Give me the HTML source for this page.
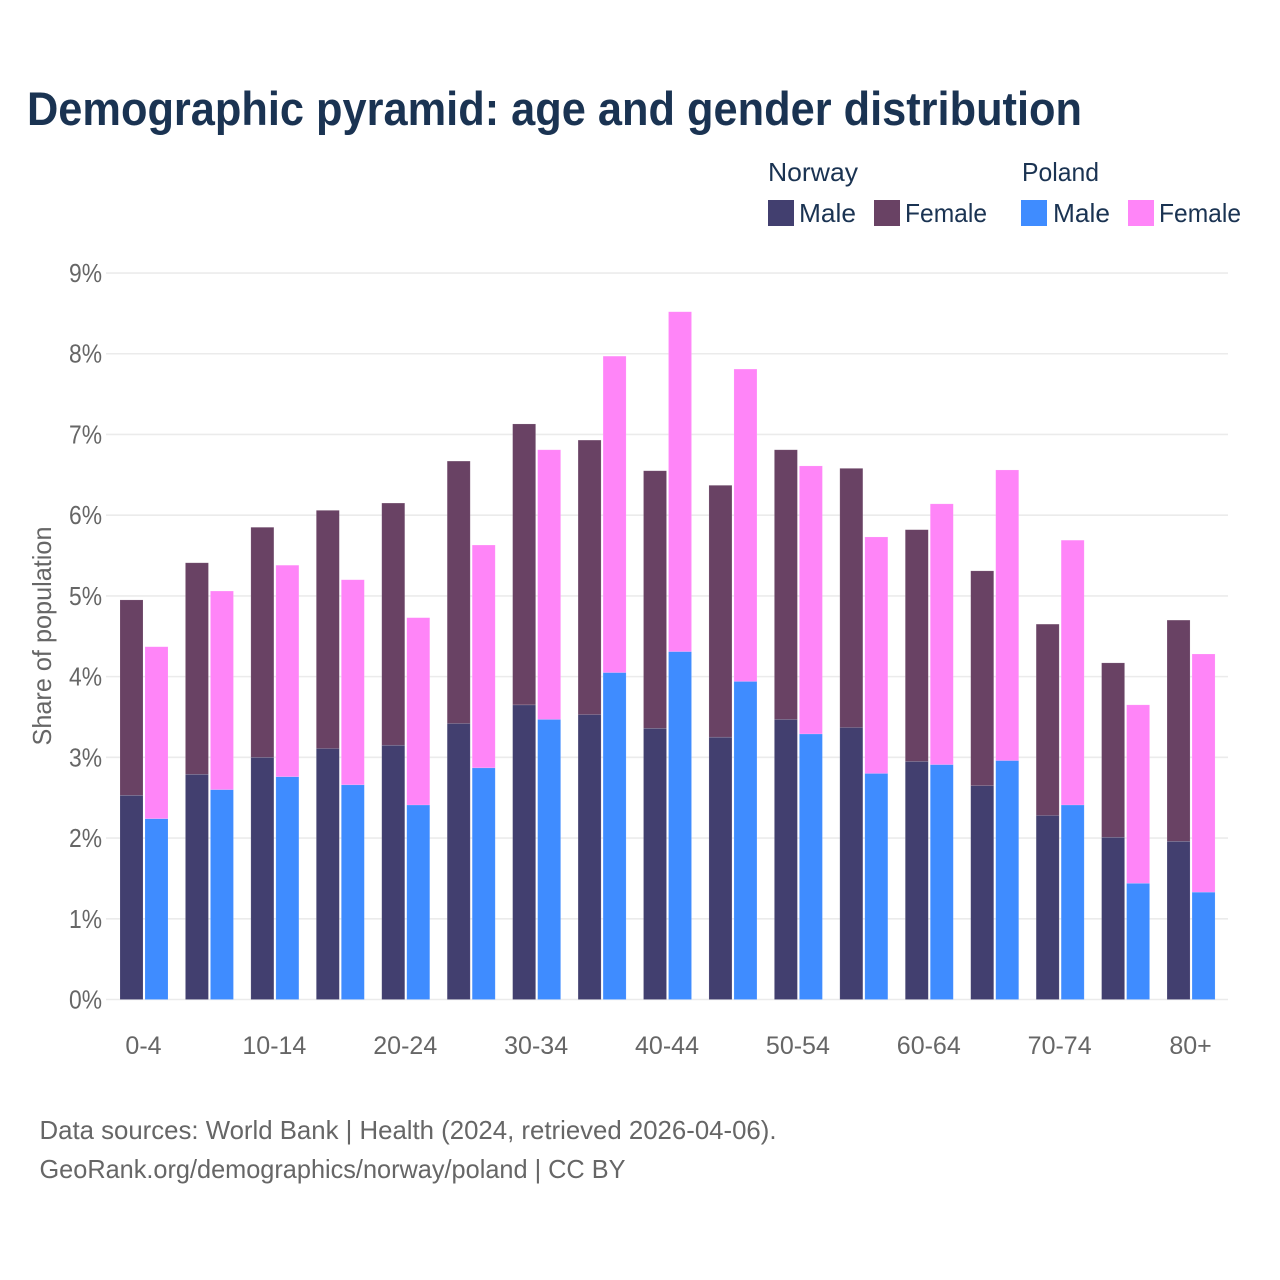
<!DOCTYPE html>
<html lang="en">
<head>
<meta charset="utf-8">
<title>Demographic pyramid: age and gender distribution</title>
<style>
html,body{margin:0;padding:0;background:#fff;}
svg{display:block;font-family:"Liberation Sans",sans-serif;}
</style>
</head>
<body>
<svg id="chart" width="1280" height="1280" viewBox="0 0 1280 1280" xmlns="http://www.w3.org/2000/svg">
  <rect x="0" y="0" width="1280" height="1280" fill="#ffffff"/>
  <text x="27" y="125" font-size="47" font-weight="700" fill="#1a3352" textLength="1055" lengthAdjust="spacingAndGlyphs">Demographic pyramid: age and gender distribution</text>

  <g font-size="26" fill="#1a3352">
    <text x="768" y="181" textLength="90" lengthAdjust="spacingAndGlyphs">Norway</text>
    <text x="1022" y="181" textLength="77" lengthAdjust="spacingAndGlyphs">Poland</text>
    <rect x="768" y="200" width="26" height="26" fill="#423f6f"/>
    <text x="799" y="222" textLength="57" lengthAdjust="spacingAndGlyphs">Male</text>
    <rect x="874" y="200" width="26" height="26" fill="#694264"/>
    <text x="905" y="222" textLength="82" lengthAdjust="spacingAndGlyphs">Female</text>
    <rect x="1021" y="200" width="26" height="26" fill="#3f8cff"/>
    <text x="1053" y="222" textLength="57" lengthAdjust="spacingAndGlyphs">Male</text>
    <rect x="1128" y="200" width="26" height="26" fill="#ff85f8"/>
    <text x="1159" y="222" textLength="82" lengthAdjust="spacingAndGlyphs">Female</text>
  </g>

  <g id="gridlines"></g>
  <g id="y-ticks"></g>
  <g id="bars"></g>
  <g id="x-ticks"></g>

  <text transform="translate(51,636) rotate(-90)" text-anchor="middle" font-size="26" fill="#666666" textLength="219" lengthAdjust="spacingAndGlyphs">Share of population</text>

  <text x="39.5" y="1139" font-size="26" fill="#666666" textLength="737" lengthAdjust="spacingAndGlyphs">Data sources: World Bank | Health (2024, retrieved 2026-04-06).</text>
  <text x="39.5" y="1178" font-size="26" fill="#666666" textLength="586" lengthAdjust="spacingAndGlyphs">GeoRank.org/demographics/norway/poland | CC BY</text>
</svg>
<script>
const categories = ["0-4","5-9","10-14","15-19","20-24","25-29","30-34","35-39","40-44","45-49","50-54","55-59","60-64","65-69","70-74","75-79","80+"];
const norwayMale = [2.53,2.79,3.00,3.11,3.15,3.42,3.65,3.53,3.36,3.25,3.47,3.37,2.95,2.65,2.28,2.01,1.96];
const norwayFemale = [2.42,2.62,2.85,2.95,3.00,3.25,3.48,3.40,3.19,3.12,3.34,3.21,2.87,2.66,2.37,2.16,2.74];
const polandMale = [2.24,2.60,2.76,2.66,2.41,2.87,3.47,4.05,4.31,3.94,3.29,2.80,2.91,2.96,2.41,1.44,1.33];
const polandFemale = [2.13,2.46,2.62,2.54,2.32,2.76,3.34,3.92,4.21,3.87,3.32,2.93,3.23,3.60,3.28,2.21,2.95];
const yTickValues = [0,1,2,3,4,5,6,7,8,9];
const yTickLabels = ["0%","1%","2%","3%","4%","5%","6%","7%","8%","9%"];

const SVG_NS = "http://www.w3.org/2000/svg";
function yScale(v){ return 999.5 - v * 80.72; }
function xScale(i){ return 144 + i * 65.44; }
function make(tag, attrs, parent){
  const el = document.createElementNS(SVG_NS, tag);
  for (const k in attrs) el.setAttribute(k, attrs[k]);
  parent.appendChild(el);
  return el;
}

const gridG = document.getElementById("gridlines");
const yTickG = document.getElementById("y-ticks");
yTickValues.forEach(function(v, i){
  const line = make("line", {x1:106, x2:1228, y1:yScale(v), y2:yScale(v), stroke:"#ebebeb", "stroke-width":1.6}, gridG);
  
  
  const label = make("text", {x:102, y:yScale(v)+9, "text-anchor":"end", "font-size":26, fill:"#666666", textLength:33, lengthAdjust:"spacingAndGlyphs"}, yTickG);
  label.textContent = yTickLabels[i];
  
  
});

const barsG = document.getElementById("bars");
function drawBar(x, base, value, fill){
  const top = yScale(base + value);
  const bottom = yScale(base);
  return make("rect", {x:x, y:top, width:23, height:bottom-top, fill:fill, stroke:"#ffffff", "stroke-opacity":0.2, "stroke-width":0.6}, barsG);
}
categories.forEach(function(cat, i){
  const c = xScale(i);
  const a = drawBar(c-24, 0, norwayMale[i], "#423f6f");
  
  
  const b = drawBar(c-24, norwayMale[i], norwayFemale[i], "#694264");
  
  
  const d = drawBar(c+1, 0, polandMale[i], "#3f8cff");
  
  
  const e = drawBar(c+1, polandMale[i], polandFemale[i], "#ff85f8");
  
  
});

const xTickG = document.getElementById("x-ticks");
categories.forEach(function(cat, i){
  if (i % 2 !== 0) return;
  const label = make("text", {x:xScale(i)-0.5, y:1054, "text-anchor":"middle", "font-size":25, fill:"#666666"}, xTickG);
  label.textContent = cat;
  
  
});
</script>
</body>
</html>
